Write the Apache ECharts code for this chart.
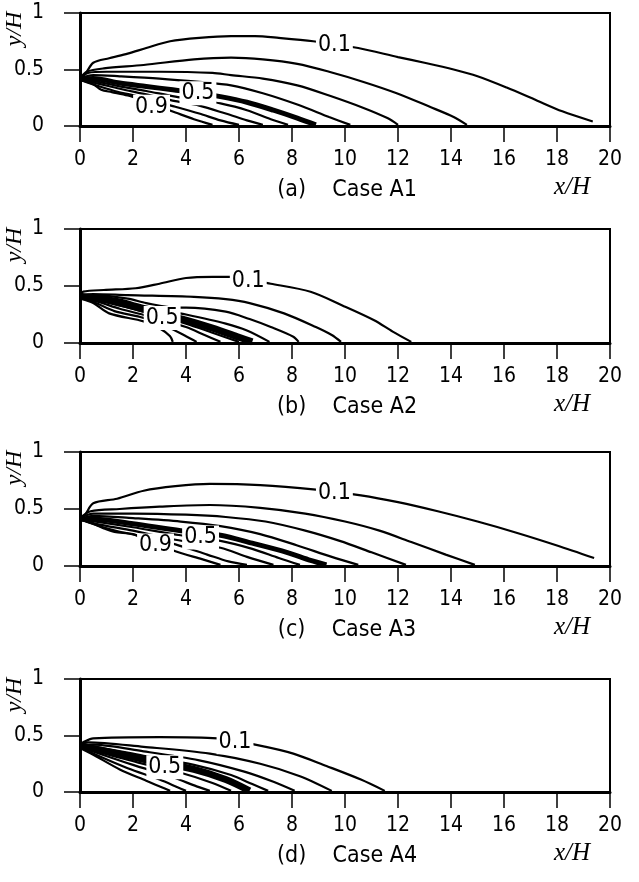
<!DOCTYPE html>
<html><head><meta charset="utf-8">
<script src="https://cdn.jsdelivr.net/npm/echarts@6/dist/echarts.min.js"></script>
<style>html,body{margin:0;padding:0;background:#fff}#c{width:639px;height:882px}</style>
</head><body><div id="c"></div>
<script>
// ---- data ----
const levels = [0.1, 0.2, 0.3, 0.4, 0.5, 0.6, 0.7, 0.8, 0.9];
const yTickLabels = {0: '0', 0.5: '0.5', 1: '1'};
const panelTags = ['(a)', '(b)', '(c)', '(d)'];
const caseNames = ['Case A1', 'Case A2', 'Case A3', 'Case A4'];

// Case A1 contour lines (x/H, y/H), one list per level
const caseA1 = [
  [[0,0.42],[0.2,0.46],[0.5,0.56],[1.1,0.6],[1.8,0.64],[2.5,0.69],[3.4,0.75],[4.5,0.78],[5.7,0.795],[6.6,0.795],[7.5,0.78],[8.8,0.75],[10.5,0.69],[12,0.61],[13,0.56],[14.1,0.5],[15,0.44],[16.1,0.34],[17.2,0.23],[18.2,0.13],[19.35,0.04]],
  [[0,0.42],[0.25,0.48],[0.9,0.51],[2.4,0.54],[4.3,0.59],[5.7,0.605],[6.9,0.59],[8.2,0.55],[9.4,0.48],[10.7,0.39],[11.95,0.29],[13.2,0.17],[14.1,0.08],[14.6,0.01]],
  [[0,0.42],[0.3,0.47],[1,0.48],[3,0.48],[5,0.47],[5.7,0.45],[6.9,0.42],[8.2,0.36],[9.4,0.27],[10.7,0.16],[11.6,0.07],[12.0,0.01]],
  [[0,0.42],[0.5,0.45],[1.5,0.44],[3,0.42],[4.5,0.39],[5.7,0.36],[6.9,0.29],[8.2,0.19],[9.4,0.08],[10.2,0.01]],
  [[0,0.41],[0.5,0.42],[1.5,0.38],[2.5,0.35],[3.5,0.32],[4.5,0.29],[5.3,0.26],[6.3,0.21],[7.3,0.14],[8.2,0.07],[8.9,0.01]],
  [[0,0.41],[0.5,0.40],[1.5,0.35],[2.5,0.31],[3.6,0.26],[4.5,0.23],[5.3,0.20],[6.3,0.14],[7.2,0.06],[7.85,0.01]],
  [[0,0.41],[0.6,0.38],[1.5,0.33],[2.5,0.28],[3.6,0.22],[4.5,0.18],[5.5,0.11],[6.3,0.05],[6.9,0.01]],
  [[0,0.41],[0.6,0.36],[1.3,0.31],[2.2,0.26],[3.6,0.17],[4.5,0.11],[5.3,0.05],[6.0,0.01]],
  [[0,0.41],[0.5,0.37],[0.8,0.32],[1.2,0.30],[1.8,0.27],[2.2,0.24],[3.6,0.12],[4.3,0.06],[5.0,0.01]]
];
const labelsA1 = [[9.6,0.72,'0.1'],[4.45,0.29,'0.5'],[2.7,0.17,'0.9']];

// Case A2
const caseA2 = [
  [[0,0.42],[0.12,0.45],[0.9,0.465],[2.1,0.48],[3.0,0.52],[4.0,0.57],[5.0,0.58],[5.7,0.58],[7.2,0.52],[8.7,0.45],[9.9,0.33],[11.1,0.2],[11.8,0.1],[12.5,0.01]],
  [[0,0.42],[0.5,0.43],[1.8,0.42],[4.3,0.405],[5.5,0.385],[6.4,0.35],[7.7,0.26],[8.9,0.14],[9.5,0.07],[9.85,0.01]],
  [[0,0.41],[0.5,0.42],[1.8,0.39],[2.5,0.35],[3.65,0.31],[4.0,0.31],[5.5,0.275],[6.4,0.21],[7.2,0.14],[8.05,0.055],[8.25,0.01]],
  [[0,0.41],[0.7,0.41],[1.5,0.38],[2.5,0.32],[4.0,0.25],[5.5,0.17],[6.3,0.11],[7.15,0.01]],
  [[0,0.41],[0.7,0.39],[1.5,0.35],[2.5,0.29],[4.0,0.2],[5.0,0.13],[6.0,0.05],[6.5,0.01]],
  [[0,0.40],[0.7,0.38],[1.5,0.33],[2.5,0.27],[4.0,0.17],[5.0,0.09],[6.0,0.01]],
  [[0,0.40],[0.7,0.36],[1.5,0.30],[2.5,0.24],[4.0,0.14],[4.7,0.07],[5.3,0.01]],
  [[0,0.40],[0.6,0.35],[1.3,0.28],[2.4,0.22],[3.3,0.14],[4.0,0.06],[4.4,0.01]],
  [[0,0.39],[0.5,0.35],[1.1,0.26],[2.4,0.19],[3.0,0.13],[3.4,0.06],[3.5,0.01]]
];
const labelsA2 = [[6.35,0.54,'0.1'],[3.1,0.22,'0.5']];

// Case A3
const caseA3 = [
  [[0,0.42],[0.19,0.45],[0.5,0.55],[1.4,0.59],[2.4,0.66],[3.6,0.70],[4.9,0.72],[6.8,0.71],[8.9,0.67],[10.6,0.62],[12,0.56],[13.5,0.48],[15,0.39],[16.5,0.29],[18,0.18],[19.4,0.07]],
  [[0,0.42],[0.4,0.48],[1.5,0.5],[3,0.52],[4.9,0.535],[6.8,0.51],[8.5,0.46],[10,0.39],[11.3,0.31],[12.5,0.21],[13.8,0.1],[14.9,0.01]],
  [[0,0.42],[0.5,0.46],[2,0.46],[4,0.45],[5.5,0.43],[7,0.39],[8.5,0.31],[9.8,0.22],[11,0.12],[12.3,0.01]],
  [[0,0.41],[0.5,0.44],[2,0.42],[3.8,0.39],[5.3,0.35],[6.8,0.28],[8.2,0.18],[9.5,0.08],[10.5,0.01]],
  [[0,0.41],[0.6,0.41],[2,0.37],[3.8,0.31],[5.3,0.27],[6.5,0.2],[7.8,0.12],[8.7,0.05],[9.3,0.01]],
  [[0,0.41],[0.6,0.39],[2,0.34],[3.8,0.27],[5.3,0.22],[6.5,0.15],[7.5,0.07],[8.3,0.01]],
  [[0,0.41],[0.6,0.37],[2,0.31],[3.6,0.23],[5.3,0.16],[6.3,0.08],[7.3,0.01]],
  [[0,0.41],[0.6,0.36],[1.5,0.30],[2.4,0.26],[3.6,0.19],[4.8,0.1],[5.6,0.04],[6.3,0.01]],
  [[0,0.41],[0.5,0.37],[0.9,0.33],[1.3,0.30],[2.0,0.28],[2.4,0.24],[3.6,0.13],[4.6,0.06],[5.3,0.01]]
];
const labelsA3 = [[9.6,0.64,'0.1'],[4.55,0.25,'0.5'],[2.85,0.18,'0.9']];

// Case A4
const caseA4 = [
  [[0,0.42],[0.12,0.44],[0.5,0.475],[3,0.485],[5.2,0.475],[6.7,0.415],[8.05,0.34],[9.3,0.23],[10.6,0.11],[11.5,0.01]],
  [[0,0.42],[0.3,0.44],[2.4,0.40],[4.9,0.34],[6.8,0.25],[8.3,0.14],[9.5,0.01]],
  [[0,0.41],[0.5,0.42],[2.4,0.36],[4.5,0.28],[6.2,0.18],[7.3,0.09],[8.1,0.01]],
  [[0,0.41],[0.6,0.40],[2.4,0.32],[4.3,0.24],[5.7,0.15],[6.5,0.07],[7.1,0.01]],
  [[0,0.41],[0.6,0.38],[2.4,0.29],[4.3,0.2],[5.5,0.11],[6.4,0.01]],
  [[0,0.40],[0.6,0.36],[2.2,0.26],[3.8,0.17],[5.0,0.08],[5.7,0.01]],
  [[0,0.40],[0.6,0.35],[2.0,0.24],[3.5,0.13],[4.4,0.05],[4.9,0.01]],
  [[0,0.40],[0.5,0.34],[1.8,0.21],[3.0,0.11],[3.7,0.04],[4.0,0.01]],
  [[0,0.39],[0.5,0.33],[1.5,0.2],[2.5,0.1],[3.2,0.03],[3.4,0.01]]
];
const labelsA4 = [[5.85,0.44,'0.1'],[3.2,0.22,'0.5']];

// ---- layout ----
const allLines = [caseA1, caseA2, caseA3, caseA4];
const allLabels = [labelsA1, labelsA2, labelsA3, labelsA4];
const thickWidths = [5, 7, 5, 7];
const gridTops = [13, 229, 452, 679];
const gridHeights = [113, 114, 114, 113];
const gridLeft = 80, gridWidth = 530;
const sansFont = "'DejaVu Sans Condensed', 'Liberation Sans Narrow', sans-serif";
const serifFont = "'Liberation Serif', 'DejaVu Serif', serif";

const chart = echarts.init(document.getElementById('c'), null, {renderer: 'canvas'});

const grids = [], xAxes = [], yAxes = [], series = [], graphics = [];
allLines.forEach((lines, i) => {
  grids.push({left: gridLeft, width: gridWidth, top: gridTops[i], height: gridHeights[i],
    show: true, borderColor: '#000', borderWidth: 2, backgroundColor: 'transparent'});
  xAxes.push({type: 'value', gridIndex: i, min: 0, max: 20, interval: 2,
    axisLine: {show: true, onZero: false, lineStyle: {color: '#000', width: 3}},
    axisTick: {show: true, inside: false, length: 16, lineStyle: {color: '#000', width: 1.5}},
    axisLabel: {margin: 23, fontSize: 21, color: '#000', fontFamily: sansFont},
    splitLine: {show: false}});
  yAxes.push({type: 'value', gridIndex: i, min: 0, max: 1, interval: 0.5,
    axisLine: {show: true, onZero: false, lineStyle: {color: '#000', width: 3}},
    axisTick: {show: true, inside: false, length: 16, lineStyle: {color: '#000', width: 1.5}},
    axisLabel: {margin: 36, fontSize: 21, color: '#000', fontFamily: sansFont,
      formatter: v => yTickLabels[v] !== undefined ? yTickLabels[v] : ''},
    splitLine: {show: false}});
  lines.forEach((pts, j) => {
    series.push({type: 'line', xAxisIndex: i, yAxisIndex: i, data: pts,
      name: caseNames[i] + ' ' + levels[j],
      symbol: 'none', showSymbol: false, smooth: 0.3, silent: true, z: 2,
      lineStyle: {color: '#000', width: levels[j] === 0.5 ? thickWidths[i] : 2.2}});
  });
  series.push({type: 'scatter', xAxisIndex: i, yAxisIndex: i, data: allLabels[i],
    symbolSize: 1, itemStyle: {color: '#fff', opacity: 1}, silent: true, z: 6,
    label: {show: true, position: 'inside', formatter: p => p.data[2],
      fontSize: 23, color: '#000', fontFamily: sansFont, opacity: 1,
      textBorderWidth: 0, textBorderColor: 'transparent',
      backgroundColor: '#fff', padding: [1, 2, 0, 2]}});
  const bottom = gridTops[i] + gridHeights[i];
  graphics.push({type: 'text', x: gridLeft + gridWidth / 2 + 2, y: bottom + 64,
    style: {text: panelTags[i] + '    ' + caseNames[i], font: '23px ' + sansFont,
      fill: '#000', textAlign: 'center', textVerticalAlign: 'middle'}});
  graphics.push({type: 'text', x: 572, y: bottom + 61,
    style: {text: 'x/H', font: 'italic 25px ' + serifFont,
      fill: '#000', textAlign: 'center', textVerticalAlign: 'middle'}});
  graphics.push({type: 'text', x: 15, y: gridTops[i] + 16, rotation: Math.PI / 2,
    style: {text: 'y/H', font: 'italic 24px ' + serifFont,
      fill: '#000', textAlign: 'center', textVerticalAlign: 'middle'}});
});

chart.setOption({
  animation: false,
  backgroundColor: '#fff',
  grid: grids, xAxis: xAxes, yAxis: yAxes, series: series, graphic: graphics
});
</script></body></html>
